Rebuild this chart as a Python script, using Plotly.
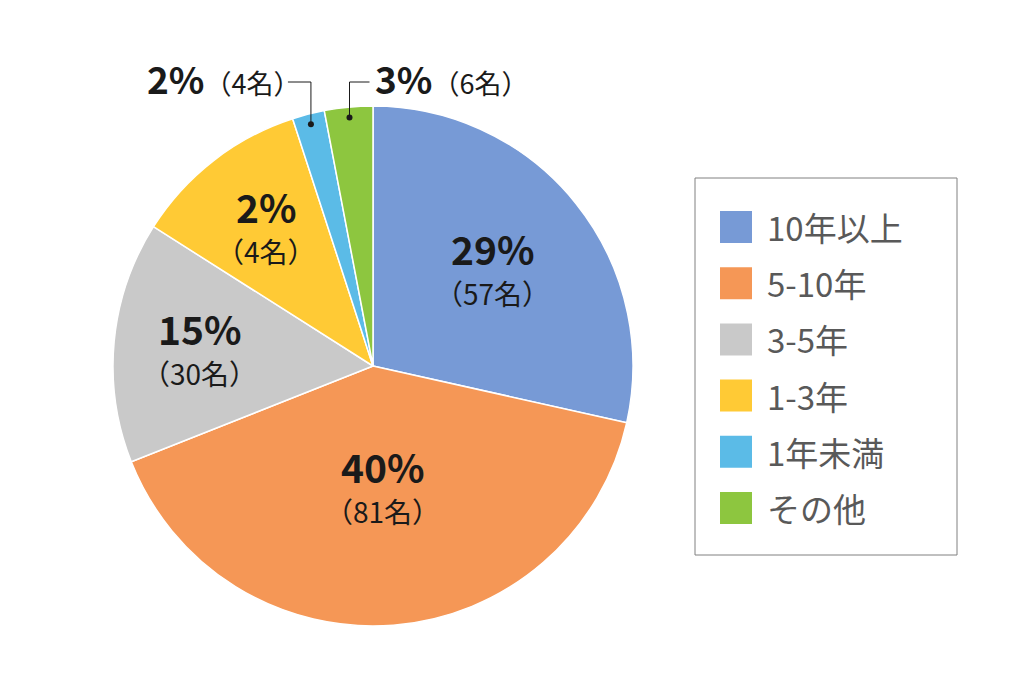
import math
import plotly.graph_objects as go

categories = ["10年以上", "5-10年", "3-5年", "1-3年", "1年未満", "その他"]
counts = [57, 81, 30, 22, 4, 6]
pct_labels = ["29%", "40%", "15%", "2%", "2%", "3%"]
count_labels = ["（57名）", "（81名）", "（30名）", "（4名）", "（4名）", "（6名）"]
colors = ["#779AD6", "#F59756", "#C9C9C9", "#FFCA35", "#5BBBE7", "#8DC63F"]

OFF = 8  # page body margin
W, H = 1024 - OFF, 682 - OFF
CX, CY, R = 373, 366, 260
FONT = "Noto Sans CJK JP"

def px(x):
    return (x - OFF) / W

def py(y):
    return 1 - (y - OFF) / H

fig = go.Figure(go.Pie(
    labels=categories, values=counts, sort=False, direction="clockwise", rotation=0,
    marker=dict(colors=colors, line=dict(color="white", width=1.5)),
    textinfo="none", hoverinfo="label+value", showlegend=False,
    domain=dict(x=[px(CX - R), px(CX + R)], y=[py(CY + R), py(CY - R)]),
))

total = sum(counts)
mids = []
cum = 0
for v in counts:
    mids.append(2 * math.pi * (cum + v / 2) / total)
    cum += v

def pos(i, frac):
    t = mids[i]
    return CX + frac * R * math.sin(t), CY - frac * R * math.cos(t)

annotations = []
shapes = []
inside_frac = [0.59, 0.47, 0.67, 0.67]
for i, f in enumerate(inside_frac):
    x, y = pos(i, f)
    annotations.append(dict(x=px(x), y=py(y - 22), xref="paper", yref="paper",
                            text="<b>" + pct_labels[i] + "</b>", showarrow=False,
                            font=dict(family=FONT, size=39, color="#1a1a1a"),
                            xanchor="center", yanchor="middle"))
    annotations.append(dict(x=px(x), y=py(y + 23), xref="paper", yref="paper",
                            text=count_labels[i], showarrow=False,
                            font=dict(family=FONT, size=28, color="#1a1a1a"),
                            xanchor="center", yanchor="middle"))

# callouts for small slices
LINE_Y = 82
for i, side in [(4, -1), (5, 1)]:
    x, y = pos(i, 0.96)
    end_x = x + 20 if side > 0 else x - 23
    shapes.append(dict(type="path", xref="paper", yref="paper",
                       path=f"M {px(x)},{py(y)} L {px(x)},{py(LINE_Y)} L {px(end_x)},{py(LINE_Y)}",
                       line=dict(color="#1a1a1a", width=1)))
    shapes.append(dict(type="circle", xref="paper", yref="paper",
                       x0=px(x - 3), x1=px(x + 3), y0=py(y + 3), y1=py(y - 3),
                       fillcolor="#1a1a1a", line=dict(width=0)))
    txt = "<b>" + pct_labels[i] + "</b><span style='font-size:27px'>" + count_labels[i] + "</span>"
    annotations.append(dict(x=px(end_x + (3 if side > 0 else 14)), y=py(LINE_Y - 4), xref="paper", yref="paper",
                            text=txt, showarrow=False,
                            font=dict(family=FONT, size=37, color="#1a1a1a"),
                            xanchor="left" if side > 0 else "right", yanchor="middle"))

# legend box
LX0, LX1, LY0, LY1 = 695, 957, 178, 555
shapes.append(dict(type="rect", xref="paper", yref="paper",
                   x0=px(LX0), x1=px(LX1), y0=py(LY1), y1=py(LY0),
                   line=dict(color="#808080", width=1), fillcolor="rgba(0,0,0,0)"))
for i, cat in enumerate(categories):
    cy = 227 + 56.2 * i
    shapes.append(dict(type="rect", xref="paper", yref="paper",
                       x0=px(720), x1=px(752), y0=py(cy + 16), y1=py(cy - 16),
                       fillcolor=colors[i], line=dict(width=0)))
    annotations.append(dict(x=px(765), y=py(cy), xref="paper", yref="paper",
                            text=cat, showarrow=False,
                            font=dict(family=FONT, size=33, color="#595959"),
                            xanchor="left", yanchor="middle"))

fig.update_layout(width=W, height=H, margin=dict(l=0, r=0, t=0, b=0),
                  paper_bgcolor="white", plot_bgcolor="white",
                  annotations=annotations, shapes=shapes)
fig.write_html("out.html")
